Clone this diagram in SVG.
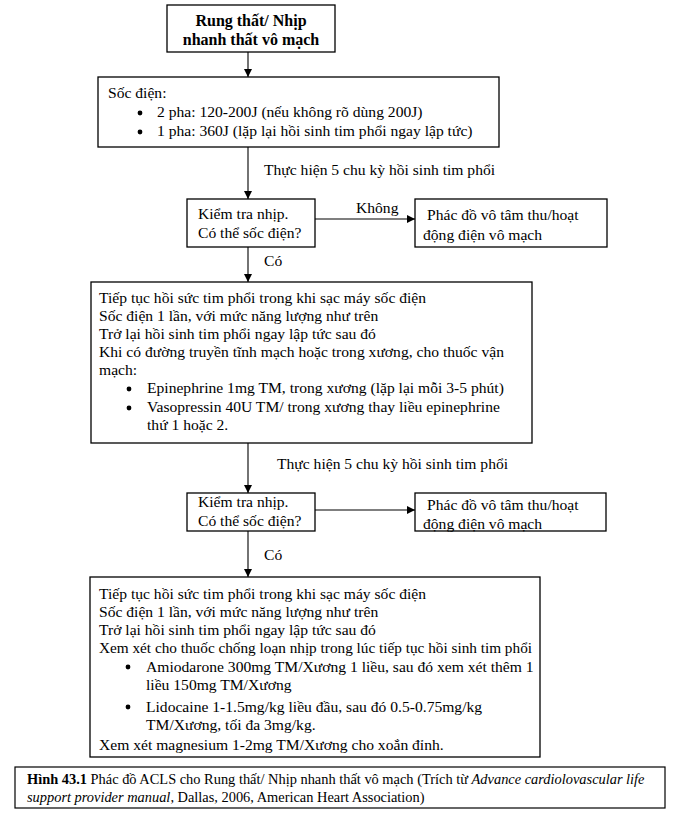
<svg xmlns="http://www.w3.org/2000/svg" width="681" height="820" viewBox="0 0 681 820">
<style>
  .box { fill: #fff; stroke: #000; stroke-width: 1.3; }
  .t { font-family: "Liberation Serif", "Times New Roman", serif; font-size: 15.6px; fill: #000; }
  .b { font-weight: bold; font-size: 16px; }
  .cap { font-family: "Liberation Serif", "Times New Roman", serif; font-size: 14.4px; fill: #000; }
  .ln { stroke: #000; stroke-width: 1.1; fill: none; }
</style>
<defs>
  <marker id="ah" viewBox="0 0 10 10" refX="10" refY="5" markerWidth="8" markerHeight="8" markerUnits="userSpaceOnUse" orient="auto">
    <path d="M0,0 L10,5 L0,10 z" fill="#000"/>
  </marker>
</defs>
<rect width="681" height="820" fill="#fff"/>

<g id="connectors">
  <line class="ln" x1="248" y1="52" x2="248" y2="77" marker-end="url(#ah)"/>
  <line class="ln" x1="248" y1="147" x2="248" y2="199" marker-end="url(#ah)"/>
  <text class="t" x="264" y="175">Thực hiện 5 chu kỳ hồi sinh tim phổi</text>
  <line class="ln" x1="315" y1="219" x2="415" y2="219" marker-end="url(#ah)"/>
  <text class="t" x="356" y="213">Không</text>
  <line class="ln" x1="248" y1="247" x2="248" y2="282" marker-end="url(#ah)"/>
  <text class="t" x="264" y="266">Có</text>
  <line class="ln" x1="248" y1="443" x2="248" y2="493" marker-end="url(#ah)"/>
  <text class="t" x="277" y="469">Thực hiện 5 chu kỳ hồi sinh tim phổi</text>
  <line class="ln" x1="315" y1="510" x2="415" y2="510" marker-end="url(#ah)"/>
  <line class="ln" x1="248" y1="531" x2="248" y2="577" marker-end="url(#ah)"/>
  <text class="t" x="264" y="560">Có</text>
</g>

<g id="start">
  <rect class="box" x="167" y="5" width="168" height="47"/>
  <text class="t b" x="251" y="26" text-anchor="middle">Rung thất/ Nhịp</text>
  <text class="t b" x="251" y="45" text-anchor="middle">nhanh thất vô mạch</text>
</g>

<g id="shock">
  <rect class="box" x="98" y="77" width="401" height="70"/>
  <text class="t" x="108" y="98">Sốc điện:</text>
  <circle cx="140" cy="113" r="2.4" fill="#000"/>
  <text class="t" x="157" y="117">2 pha: 120-200J (nếu không rõ dùng 200J)</text>
  <circle cx="140" cy="132" r="2.4" fill="#000"/>
  <text class="t" x="157" y="136">1 pha: 360J (lặp lại hồi sinh tim phổi ngay lập tức)</text>
</g>

<g id="check1">
  <rect class="box" x="187" y="199" width="128" height="48"/>
  <text class="t" x="198" y="219">Kiểm tra nhịp.</text>
  <text class="t" x="198" y="238">Có thể sốc điện?</text>
</g>

<g id="asystole1">
  <rect class="box" x="415" y="199" width="192" height="48"/>
  <text class="t" x="427" y="220">Phác đồ vô tâm thu/hoạt</text>
  <text class="t" x="423" y="240">động điện vô mạch</text>
</g>

<g id="step2">
  <rect class="box" x="91" y="282" width="441" height="161"/>
  <text class="t" x="99" y="303">Tiếp tục hồi sức tim phổi trong khi sạc máy sốc điện</text>
  <text class="t" x="99" y="321">Sốc điện 1 lần, với mức năng lượng như trên</text>
  <text class="t" x="99" y="339">Trở lại hồi sinh tim phổi ngay lập tức sau đó</text>
  <text class="t" x="99" y="357">Khi có đường truyền tĩnh mạch hoặc trong xương, cho thuốc vận</text>
  <text class="t" x="99" y="375">mạch:</text>
  <circle cx="129" cy="389" r="2.4" fill="#000"/>
  <text class="t" x="147" y="393">Epinephrine 1mg TM, trong xương (lặp lại mỗi 3-5 phút)</text>
  <circle cx="129" cy="408" r="2.4" fill="#000"/>
  <text class="t" x="147" y="412">Vasopressin 40U TM/ trong xương thay liều epinephrine</text>
  <text class="t" x="147" y="430">thứ 1 hoặc 2.</text>
</g>

<g id="check2">
  <rect class="box" x="187" y="493" width="128" height="38"/>
  <text class="t" x="198" y="507">Kiểm tra nhịp.</text>
  <text class="t" x="198" y="526">Có thể sốc điện?</text>
</g>

<g id="asystole2">
  <rect class="box" x="415" y="493" width="191" height="38"/>
  <text class="t" x="427" y="510">Phác đồ vô tâm thu/hoạt</text>
  <text class="t" x="423" y="529">động điện vô mạch</text>
</g>

<g id="step3">
  <rect class="box" x="90" y="577" width="450" height="180"/>
  <text class="t" x="99" y="599">Tiếp tục hồi sức tim phổi trong khi sạc máy sốc điện</text>
  <text class="t" x="99" y="617">Sốc điện 1 lần, với mức năng lượng như trên</text>
  <text class="t" x="99" y="635">Trở lại hồi sinh tim phổi ngay lập tức sau đó</text>
  <text class="t" x="99" y="653" textLength="433" lengthAdjust="spacingAndGlyphs">Xem xét cho thuốc chống loạn nhịp trong lúc tiếp tục hồi sinh tim phổi</text>
  <circle cx="128" cy="667" r="2.4" fill="#000"/>
  <text class="t" x="146" y="672">Amiodarone 300mg TM/Xương 1 liều, sau đó xem xét thêm 1</text>
  <text class="t" x="146" y="690">liều 150mg TM/Xương</text>
  <circle cx="128" cy="707" r="2.4" fill="#000"/>
  <text class="t" x="146" y="712">Lidocaine 1-1.5mg/kg liều đầu, sau đó 0.5-0.75mg/kg</text>
  <text class="t" x="146" y="730">TM/Xương, tối đa 3mg/kg.</text>
  <text class="t" x="99" y="750">Xem xét magnesium 1-2mg TM/Xương cho xoắn đỉnh.</text>
</g>

<g id="caption">
  <rect x="15" y="767" width="650" height="41" fill="#fff" stroke="#000" stroke-width="1.2"/>
  <text class="cap" x="27" y="784"><tspan font-weight="bold">Hình 43.1</tspan> Phác đồ ACLS cho Rung thất/ Nhịp nhanh thất vô mạch (Trích từ <tspan font-style="italic">Advance cardiolovascular life</tspan></text>
  <text class="cap" x="27" y="802"><tspan font-style="italic">support provider manual</tspan>, Dallas, 2006, American Heart Association)</text>
</g>
</svg>
